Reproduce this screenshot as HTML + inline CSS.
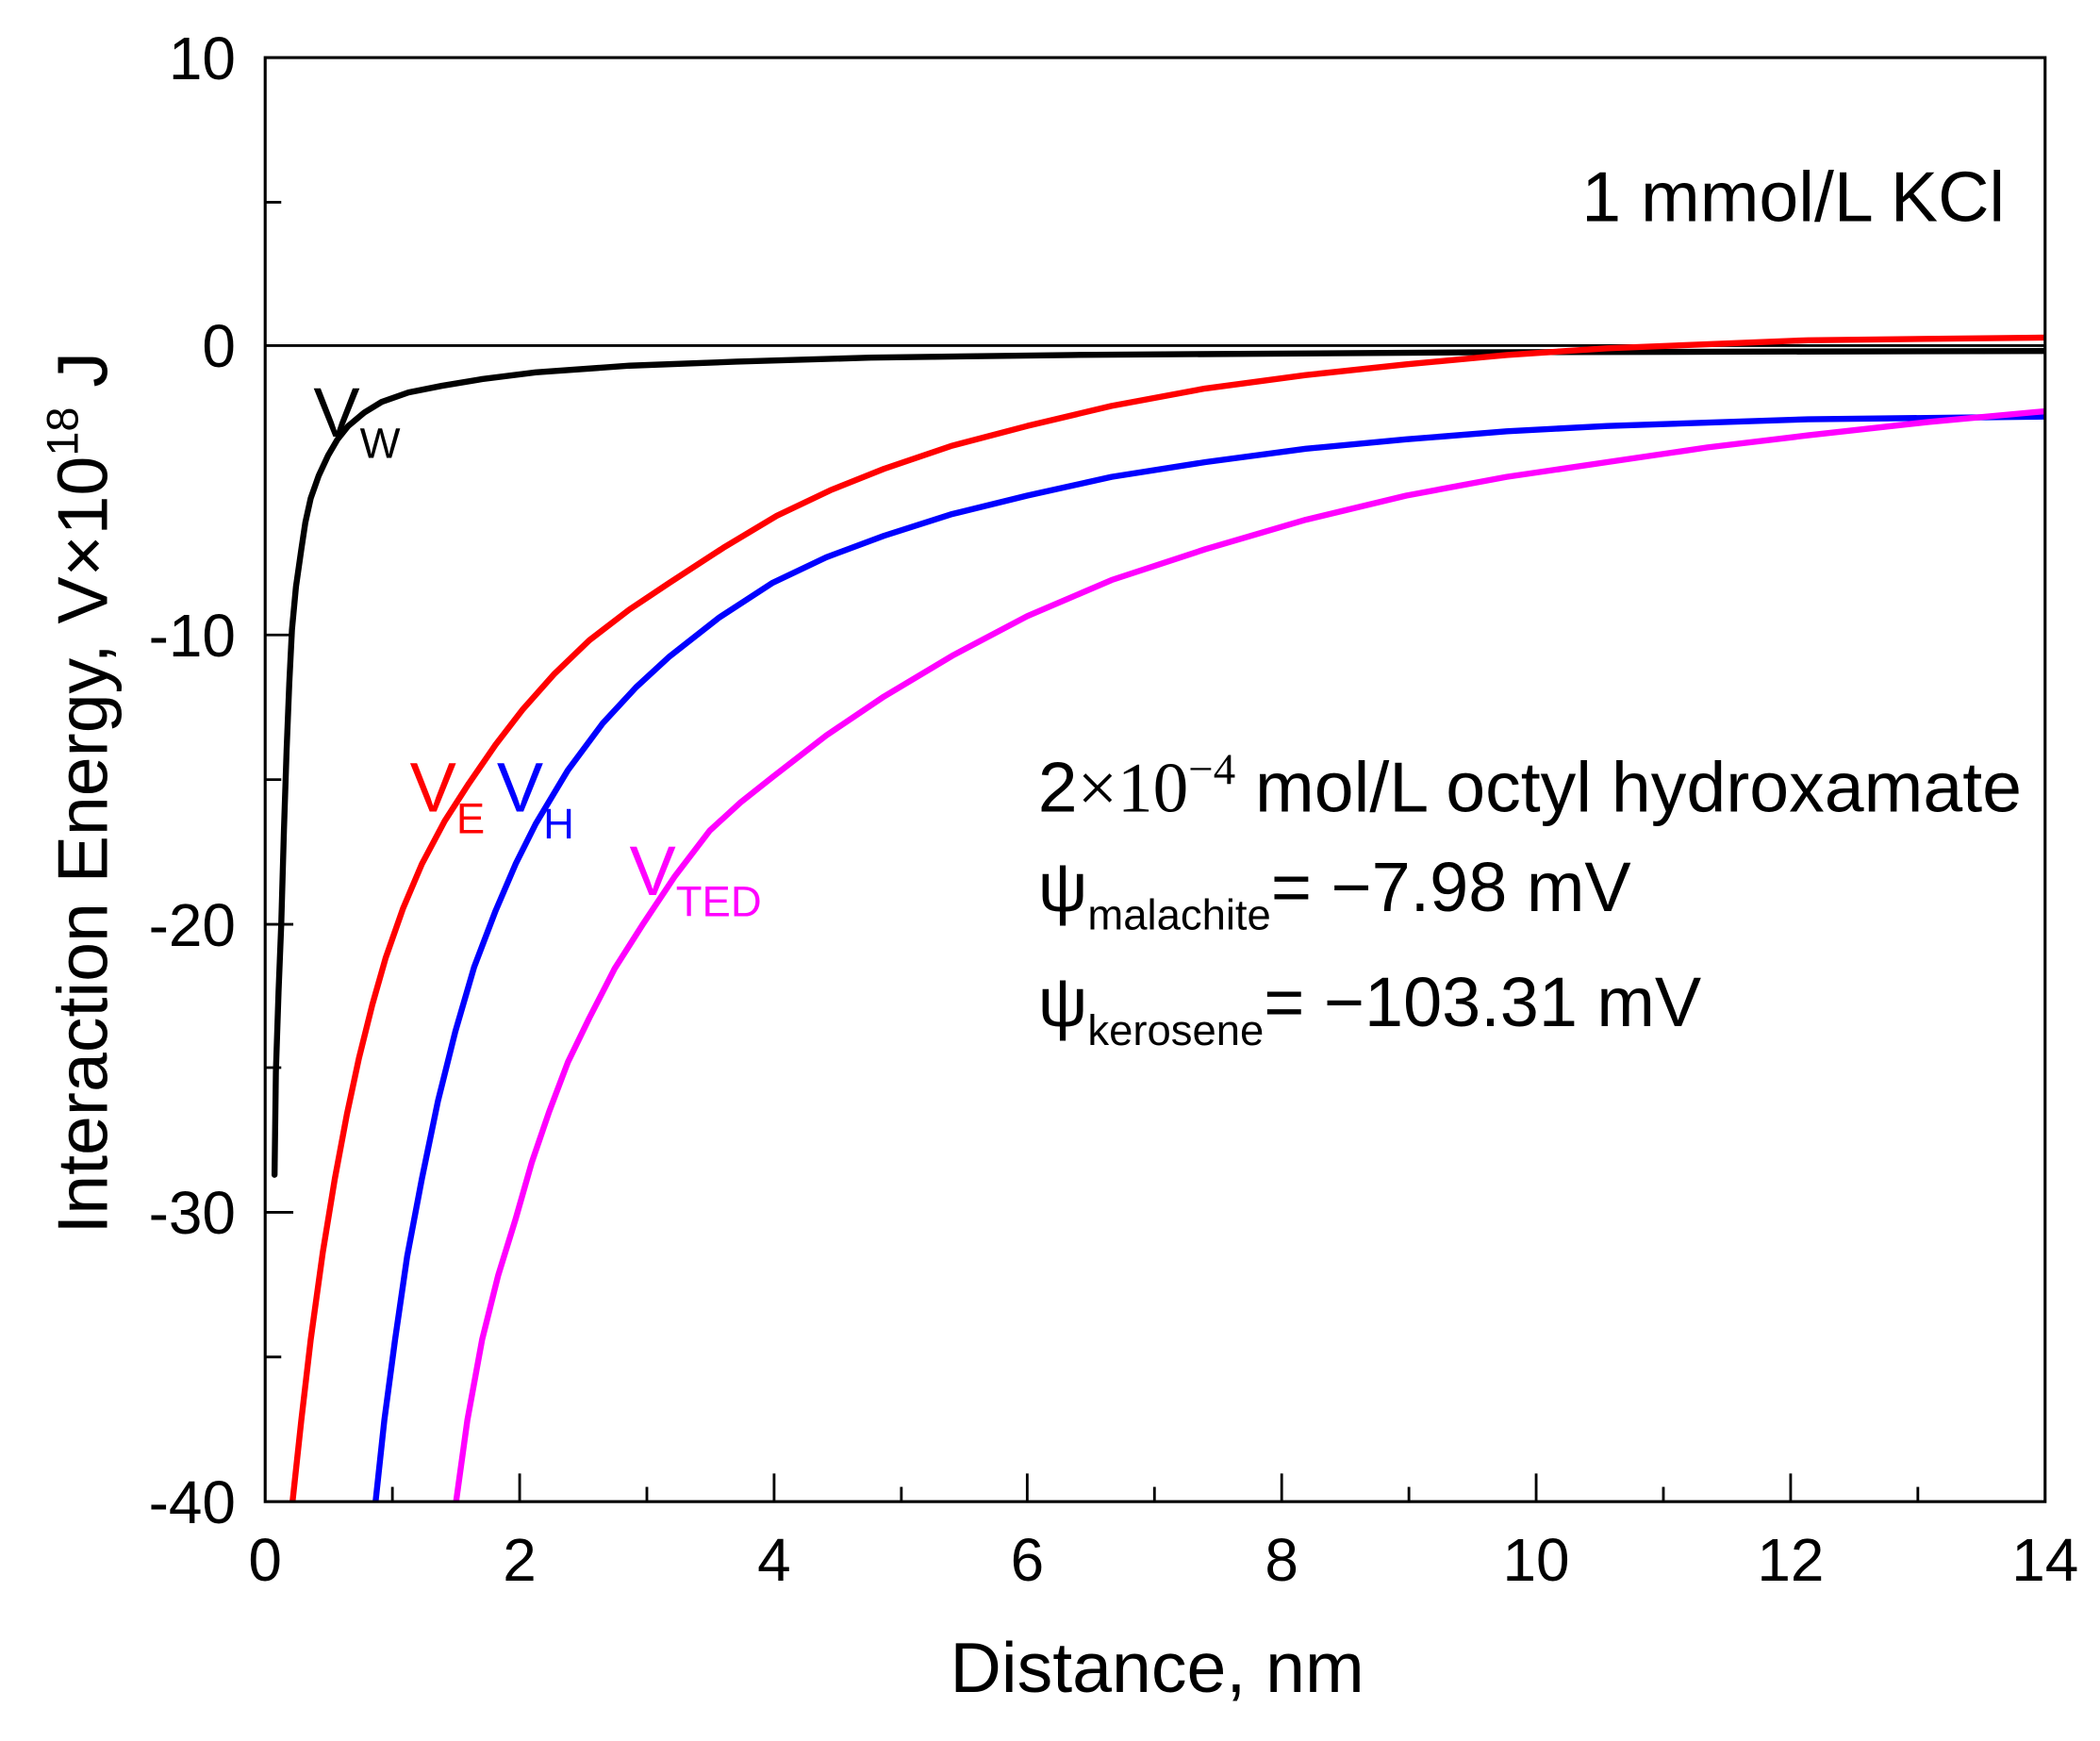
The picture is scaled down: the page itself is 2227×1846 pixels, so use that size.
<!DOCTYPE html>
<html><head><meta charset="utf-8"><style>html,body{margin:0;padding:0;background:#fff}svg{display:block}</style></head>
<body>
<svg width="2227" height="1846" viewBox="0 0 1568 1299.7" preserveAspectRatio="none" font-family="Liberation Sans, Arial, sans-serif">
<rect x="0" y="0" width="1568" height="1300" fill="#fff"/>
<defs><clipPath id="c"><rect x="198" y="43" width="1329" height="1078"/></clipPath></defs>
<line x1="198" y1="258" x2="1527" y2="258" stroke="#000" stroke-width="2"/>
<g clip-path="url(#c)" fill="none" stroke-width="4.5" stroke-linejoin="round" stroke-linecap="round">
<polyline stroke="#000" points="205,877 206,800 208,740 210,690 212,620 214,560 216,510 218,470 221,438 225,410 228,390 232,372 238,355 245,340 252,328 260,318 272,308 285,300 305,293 330,288 360,283 400,278 470,273 550,270 650,267 800,265 1100,263 1527,262"/>
<polyline stroke="#ff0000" points="218,1125 225,1060 232,1000 241,935 250,880 259,832 268,790 278,750 288,715 301,678 315,645 332,613 350,585 370,556 390,530 414,503 440,478 470,455 500,435 540,409 580,385 620,366 660,350 710,333 767,318 830,303 900,290 975,280 1050,272 1125,265 1200,260 1350,254 1527,252"/>
<polyline stroke="#0000ff" points="280,1125 287,1060 295,1000 304,938 315,880 327,822 340,770 354,722 370,680 385,645 400,615 424,575 450,540 475,513 500,490 537,461 577,435 617,416 660,400 710,384 767,370 830,356 900,345 975,335 1050,328 1125,322 1200,318 1350,313 1527,311"/>
<polyline stroke="#ff00ff" points="340,1125 349,1060 360,1000 372,952 385,910 397,868 410,830 424,793 440,760 459,723 480,690 504,654 530,620 553,599 577,580 617,549 660,520 712,489 767,460 830,433 900,410 975,388 1050,370 1125,356 1200,345 1275,334 1350,325 1440,315 1527,307"/>
</g>
<rect x="198" y="43" width="1329" height="1078" fill="none" stroke="#000" stroke-width="2.2"/>
<g stroke="#000" stroke-width="2">
<line x1="293" y1="1121" x2="293" y2="1110"/><line x1="388" y1="1121" x2="388" y2="1100"/>
<line x1="483" y1="1121" x2="483" y2="1110"/><line x1="578" y1="1121" x2="578" y2="1100"/>
<line x1="673" y1="1121" x2="673" y2="1110"/><line x1="767" y1="1121" x2="767" y2="1100"/>
<line x1="862" y1="1121" x2="862" y2="1110"/><line x1="957" y1="1121" x2="957" y2="1100"/>
<line x1="1052" y1="1121" x2="1052" y2="1110"/><line x1="1147" y1="1121" x2="1147" y2="1100"/>
<line x1="1242" y1="1121" x2="1242" y2="1110"/><line x1="1337" y1="1121" x2="1337" y2="1100"/>
<line x1="1432" y1="1121" x2="1432" y2="1110"/>
<line x1="198" y1="151" x2="210" y2="151"/><line x1="198" y1="474" x2="219" y2="474"/>
<line x1="198" y1="582" x2="210" y2="582"/><line x1="198" y1="690" x2="219" y2="690"/>
<line x1="198" y1="797" x2="210" y2="797"/><line x1="198" y1="905" x2="219" y2="905"/>
<line x1="198" y1="1013" x2="210" y2="1013"/>
</g>
<g font-size="45" text-anchor="middle" fill="#000">
<text x="198" y="1180">0</text><text x="388" y="1180">2</text><text x="578" y="1180">4</text>
<text x="767" y="1180">6</text><text x="957" y="1180">8</text><text x="1147" y="1180">10</text>
<text x="1337" y="1180">12</text><text x="1527" y="1180">14</text>
</g>
<g font-size="45" text-anchor="end" fill="#000">
<text x="176" y="59">10</text><text x="176" y="274">0</text><text x="176" y="490">-10</text>
<text x="176" y="706">-20</text><text x="176" y="921">-30</text><text x="176" y="1137">-40</text>
</g>
<text x="864" y="1263" font-size="53" text-anchor="middle">Distance, nm</text>
<text transform="translate(80,592) rotate(-90)" font-size="53" text-anchor="middle">Interaction Energy, V×10<tspan font-size="33" dy="-22">18</tspan><tspan dy="22"> J</tspan></text>
<text x="1497" y="165" font-size="53" text-anchor="end">1 mmol/L KCl</text>
<text x="775" y="606" font-size="53">2<tspan font-family="Liberation Serif, serif">×10</tspan><tspan font-family="Liberation Serif, serif" font-size="33" dy="-21">−4</tspan><tspan dy="21"> mol/L octyl hydroxamate</tspan></text>
<text x="775" y="680" font-size="52">ψ<tspan font-size="32" dy="14">malachite</tspan><tspan dy="-14">= −7.98 mV</tspan></text>
<text x="775" y="766" font-size="52">ψ<tspan font-size="32" dy="14">kerosene</tspan><tspan dy="-14">= −103.31 mV</tspan></text>
<text x="234" y="326" font-size="52">V<tspan font-size="32" dy="16">W</tspan></text>
<text x="306" y="606" font-size="52" fill="#ff0000">V<tspan font-size="32" dy="16">E</tspan></text>
<text x="371" y="606" font-size="52" fill="#0000ff">V<tspan font-size="32" dy="20">H</tspan></text>
<text x="470" y="668" font-size="52" fill="#ff00ff">V<tspan font-size="32" dy="16">TED</tspan></text>
</svg>
</body></html>
